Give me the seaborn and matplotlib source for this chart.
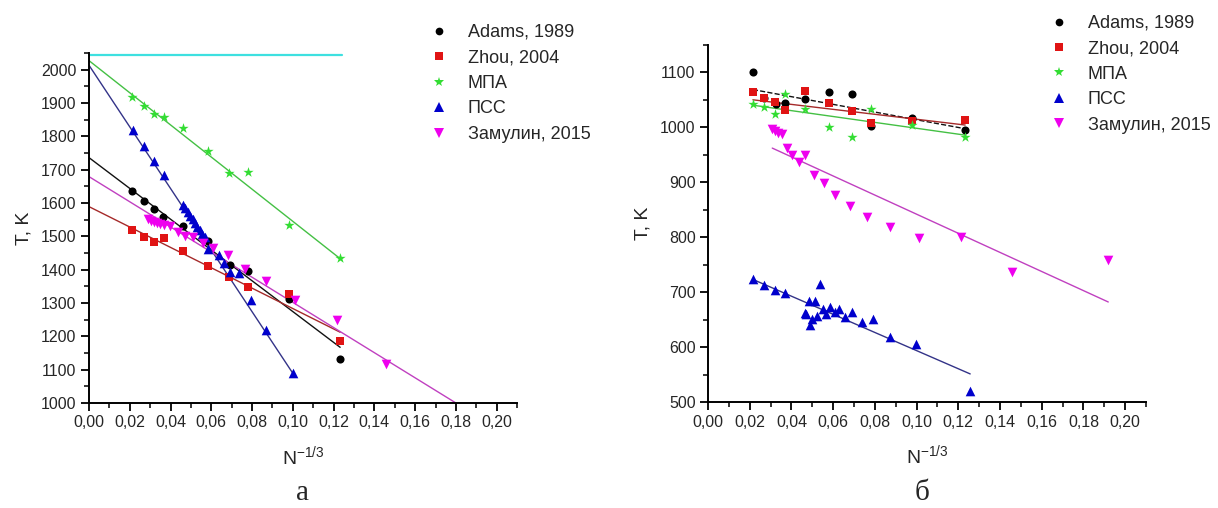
import numpy as np
import pandas as pd
import matplotlib
matplotlib.use("Agg")
import matplotlib.pyplot as plt
from matplotlib.lines import Line2D
from matplotlib.ticker import MultipleLocator, FuncFormatter
import seaborn as sns

# ---------------- data: panel (а) ----------------
series = ["Adams, 1989", "Zhou, 2004", "МПА", "ПСС", "Замулин, 2015"]

adams_a_x = [0.0210, 0.0270, 0.0320, 0.0365, 0.0462, 0.0586, 0.0690, 0.0780, 0.0980, 0.1232]
adams_a_T = [1636, 1606, 1581, 1559, 1531, 1487, 1414, 1396, 1311, 1133]

zhou_a_x = [0.0213, 0.0272, 0.0320, 0.0367, 0.0462, 0.0586, 0.0689, 0.0780, 0.0980, 0.1232]
zhou_a_T = [1519, 1499, 1484, 1494, 1457, 1412, 1379, 1349, 1326, 1185]

mpa_a_x = [0.0213, 0.0272, 0.0320, 0.0367, 0.0462, 0.0584, 0.0689, 0.0780, 0.0980, 0.1232]
mpa_a_T = [1918, 1891, 1867, 1857, 1825, 1757, 1690, 1694, 1535, 1434]

pss_a_x = [0.0214, 0.0270, 0.0320, 0.0367, 0.0460, 0.0472, 0.0484, 0.0496, 0.0508,
           0.0520, 0.0532, 0.0544, 0.0556, 0.0568, 0.0586, 0.0636, 0.0660, 0.0690,
           0.0738, 0.0794, 0.0870, 0.0999]
pss_a_T = [1820, 1772, 1727, 1684, 1595, 1584, 1573, 1562, 1551, 1540, 1529, 1518,
           1508, 1498, 1461, 1444, 1419, 1394, 1389, 1309, 1219, 1090]

zam_a_x = [0.0290, 0.0305, 0.0320, 0.0335, 0.0350, 0.0370, 0.0395, 0.0438, 0.0471,
           0.0509, 0.0560, 0.0610, 0.0684, 0.0766, 0.0870, 0.1010, 0.1215, 0.1458]
zam_a_T = [1551, 1547, 1544, 1541, 1538, 1535, 1530, 1512, 1502, 1499, 1480, 1464,
           1444, 1402, 1367, 1309, 1249, 1116]

# linear fits T = T0 + k*x and the x-range each is drawn over
fit_a_T0 = [1736, 1589, 2027, 2013, 1679]
fit_a_k = [-4618, -3057, -4821, -9240, -3772]
fit_a_xmin = [0.0, 0.0, 0.0, 0.0, 0.0]
fit_a_xmax = [0.1232, 0.1232, 0.1232, 0.0999, 0.180]

# melting temperature of the bulk metal
T_bulk_a = 2045
T_bulk_a_xmax = 0.124

# ---------------- data: panel (б) ----------------
adams_b_x = [0.0215, 0.0270, 0.0324, 0.0368, 0.0464, 0.0582, 0.0689, 0.0780, 0.0980, 0.1233]
adams_b_T = [1100, 1054, 1042, 1045, 1051, 1064, 1061, 1002, 1018, 996]

zhou_b_x = [0.0215, 0.0270, 0.0320, 0.0368, 0.0464, 0.0582, 0.0689, 0.0780, 0.0980, 0.1233]
zhou_b_T = [1065, 1054, 1047, 1031, 1067, 1045, 1030, 1008, 1012, 1013]

mpa_b_x = [0.0215, 0.0270, 0.0320, 0.0368, 0.0464, 0.0582, 0.0689, 0.0780, 0.0980, 0.1233]
mpa_b_T = [1042, 1037, 1025, 1060, 1033, 1000, 983, 1034, 1004, 983]

pss_b_x = [0.0215, 0.0270, 0.0322, 0.0367, 0.0464, 0.0472, 0.0482, 0.0487, 0.0500,
           0.0512, 0.0523, 0.0536, 0.0552, 0.0568, 0.0584, 0.0608, 0.0628, 0.0659,
           0.0692, 0.0738, 0.0791, 0.0872, 0.0999, 0.1257]
pss_b_T = [724, 714, 705, 698, 663, 660, 684, 640, 651, 685, 657, 715, 669, 660,
           674, 664, 669, 656, 665, 646, 651, 618, 606, 521]

zam_b_x = [0.0308, 0.0319, 0.0336, 0.0357, 0.0380, 0.0404, 0.0437, 0.0467, 0.0507,
           0.0555, 0.0611, 0.0679, 0.0761, 0.0872, 0.1013, 0.1214, 0.1457, 0.1919]
zam_b_T = [998, 994, 990, 988, 963, 949, 937, 949, 914, 899, 878, 858, 837, 818,
           798, 800, 737, 759]

fit_b_T0 = [1084, 1060, 1052, 759, 1016]
fit_b_k = [-700, -451, -535, -1650, -1738]
fit_b_xmin = [0.0215, 0.0215, 0.0215, 0.0215, 0.0308]
fit_b_xmax = [0.1233, 0.1233, 0.1233, 0.1257, 0.1919]

# ---------------- styling ----------------
marker_colors = ["#000000", "#E01414", "#33DD33", "#0000CC", "#EE00EE"]
line_colors = ["#111111", "#A52A2A", "#44C044", "#333388", "#C040C0"]
line_styles = ["-", "-", "-", "-", "-"]
markers = ["o", "s", "*", "^", "v"]
msizes = [34, 30, 60, 48, 48]

sns.set_theme(style="white")
plt.rcParams["font.family"] = ["Liberation Sans", "DejaVu Sans"]
plt.rcParams["mathtext.default"] = "regular"


def build_frame(xs, ts):
    rows = []
    for name, x, t in zip(series, xs, ts):
        rows.append(pd.DataFrame({"series": name, "x": x, "T": t}))
    return pd.concat(rows, ignore_index=True)


def build_fits(T0, k, xmin, xmax):
    rows = []
    for name, a, b, lo, hi in zip(series, T0, k, xmin, xmax):
        xx = np.array([lo, hi])
        rows.append(pd.DataFrame({"series": name, "x": xx, "T": a + b * xx}))
    return pd.concat(rows, ignore_index=True)


def comma(v, pos):
    return f"{v:.2f}".replace(".", ",")


def style_axes(ax, ylim, ymajor):
    ax.set_xlim(0, 0.21)
    ax.set_ylim(*ylim)
    ax.xaxis.set_major_locator(MultipleLocator(0.02))
    ax.xaxis.set_minor_locator(MultipleLocator(0.01))
    ax.yaxis.set_major_locator(MultipleLocator(ymajor))
    ax.yaxis.set_minor_locator(MultipleLocator(ymajor / 2))
    ax.xaxis.set_major_formatter(FuncFormatter(comma))
    ax.tick_params(which="major", direction="out", length=6, width=1.3,
                   labelsize=11.5, color="black", pad=3,
                   bottom=True, left=True)
    ax.tick_params(which="minor", direction="out", length=3.5, width=1.1,
                   color="black", bottom=True, left=True)
    for s in ["top", "right"]:
        ax.spines[s].set_visible(False)
    for s in ["left", "bottom"]:
        ax.spines[s].set_color("black")
        ax.spines[s].set_linewidth(1.4)
    ax.set_xlabel("N$^{-1/3}$", fontsize=14, labelpad=10)
    ax.set_ylabel("T, K", fontsize=14, labelpad=6)
    ax.grid(False)


def draw_panel(ax, pts, fits, dashed_first=False):
    for i, name in enumerate(series):
        f = fits[fits.series == name]
        ls = "--" if (dashed_first and i == 0) else line_styles[i]
        sns.lineplot(data=f, x="x", y="T", ax=ax, color=line_colors[i],
                     lw=1.0, linestyle=ls, legend=False, zorder=2)
    for i, name in enumerate(series):
        p = pts[pts.series == name]
        sns.scatterplot(data=p, x="x", y="T", ax=ax, color=marker_colors[i],
                        marker=markers[i], s=msizes[i], linewidth=0,
                        legend=False, zorder=3)


fig = plt.figure(figsize=(12.18, 5.08), dpi=100)
ax_a = fig.add_axes([0.0731, 0.2067, 0.3514, 0.689])
ax_b = fig.add_axes([0.5813, 0.2081, 0.3596, 0.7033])

pts_a = build_frame([adams_a_x, zhou_a_x, mpa_a_x, pss_a_x, zam_a_x],
                    [adams_a_T, zhou_a_T, mpa_a_T, pss_a_T, zam_a_T])
fits_a = build_fits(fit_a_T0, fit_a_k, fit_a_xmin, fit_a_xmax)
pts_b = build_frame([adams_b_x, zhou_b_x, mpa_b_x, pss_b_x, zam_b_x],
                    [adams_b_T, zhou_b_T, mpa_b_T, pss_b_T, zam_b_T])
fits_b = build_fits(fit_b_T0, fit_b_k, fit_b_xmin, fit_b_xmax)

bulk = pd.DataFrame({"x": [0.0, T_bulk_a_xmax], "T": [T_bulk_a, T_bulk_a]})
sns.lineplot(data=bulk, x="x", y="T", ax=ax_a, color="#3EE0E0", lw=1.6,
             legend=False, zorder=2)
draw_panel(ax_a, pts_a, fits_a)
draw_panel(ax_b, pts_b, fits_b, dashed_first=True)

style_axes(ax_a, (1000, 2050), 100)
style_axes(ax_b, (500, 1150), 100)

handles = [Line2D([], [], linestyle="none", marker=m, color=c,
                  markersize=np.sqrt(s) * 0.95, markeredgewidth=0)
           for m, c, s in zip(markers, marker_colors, msizes)]

for anchor in [(0.347, 0.967), (0.856, 0.985)]:
    fig.legend(handles, series, loc="upper left", bbox_to_anchor=anchor,
               frameon=False, fontsize=13, handlelength=1.0,
               handletextpad=1.1, labelspacing=0.47, borderaxespad=0)

fig.text(0.248, 0.003, "а", fontsize=21, family="Liberation Serif",
         ha="center", va="bottom")
fig.text(0.757, 0.003, "б", fontsize=21, family="Liberation Serif",
         ha="center", va="bottom")

fig.savefig("out.png", dpi=100, facecolor="white")
